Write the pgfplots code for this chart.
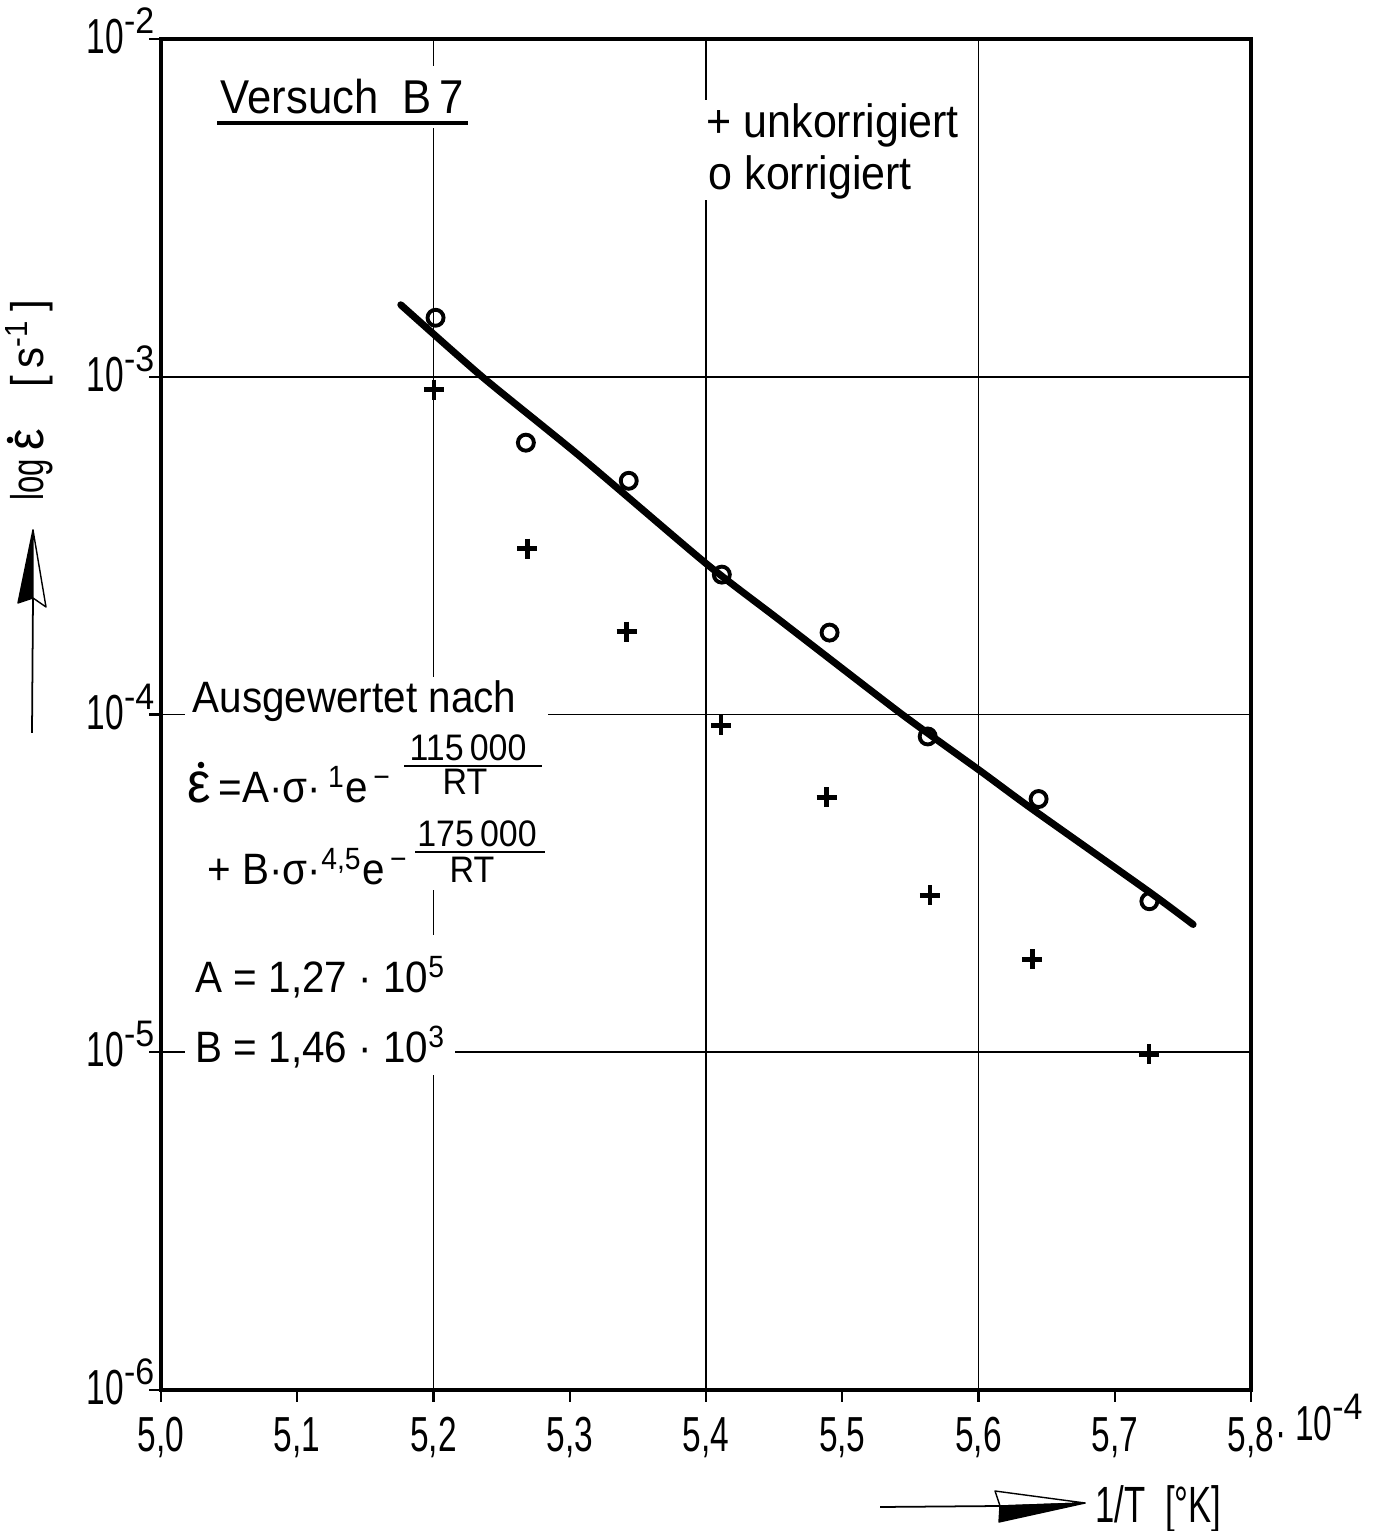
\documentclass[border=0pt]{standalone}
\usepackage{pgfplots}
\pgfplotsset{compat=1.18}
\usepackage{fontspec}
\setmainfont{Liberation Sans}[FakeStretch=0.92]
\newfontfamily\tickfont{Liberation Sans}[FakeStretch=0.68]
\newcommand\fs[1]{\fontsize{#1}{#1}\selectfont}
% superscript for the tick labels
\newcommand\tsup[1]{\raisebox{2.0mm}{\rmfamily\fs{10.5}#1}}

\begin{document}
\begin{tikzpicture}
\useasboundingbox (-16.1mm,-14.1mm) rectangle (121.9mm,139mm);
\begin{axis}[
  scale only axis, width=109mm, height=135.1mm,
  at={(0,0)}, anchor=south west,
  xmin=5.0, xmax=5.8, ymode=log, ymin=1e-6, ymax=1e-2,
  xtick={5.0,5.1,5.2,5.3,5.4,5.5,5.6,5.7,5.8},
  xticklabels={{5,0},{5,1},{5,2},{5,3},{5,4},{5,5},{5,6},{5,7},{5,8}},
  ytick={1e-6,1e-5,1e-4,1e-3,1e-2},
  yticklabels={10\tsup{-6},10\tsup{-5},10\tsup{-4},10\tsup{-3},10\tsup{-2}},
  yminorticks=false, minor y tick num=0,
  xtick pos=bottom, ytick pos=left,
  tick align=outside, major tick length=1.2mm,
  tick style={line width=0.6pt, black},
  axis line style={line width=1.4pt},
  extra x ticks={5.2,5.4,5.6}, extra x tick labels={},
  extra x tick style={grid=major, major tick length=0pt},
  extra y ticks={1e-3,1e-4,1e-5}, extra y tick labels={},
  extra y tick style={grid=major, major tick length=0pt},
  major grid style={line width=0.45pt, black},
  xticklabel style={font=\tickfont\fs{14}, anchor=base, inner sep=0pt, yshift=-5.0mm},
  yticklabel style={font=\tickfont\fs{14}, anchor=base east, inner sep=0pt, xshift=0.6mm, yshift=-1.45mm},
  clip=false,
]
% fitted curve
\addplot[line width=2pt, line cap=round, smooth, tension=0.4] coordinates {
 (5.1760,1.633e-3) (5.2357,1.0e-3) (5.3071,5.83e-4) (5.4,2.80e-4) (5.4545,1.897e-4)
 (5.5430,1.007e-4) (5.6019,6.78e-5) (5.6388,5.27e-5) (5.7250,2.99e-5) (5.7575,2.39e-5)};
% unkorrigiert
\addplot[only marks, mark=+, mark size=1.0mm, line width=1.3pt] coordinates {
 (5.2003,9.15e-4) (5.2688,3.10e-4) (5.3418,1.760e-4) (5.4111,9.28e-5)
 (5.4885,5.68e-5) (5.5643,2.913e-5) (5.6395,1.884e-5) (5.7252,9.86e-6)};
% korrigiert
\addplot[only marks, mark=o, mark size=0.8mm, line width=1.1pt, mark options={fill=white}] coordinates {
 (5.2015,1.495e-3) (5.2678,6.38e-4) (5.3433,4.92e-4) (5.4116,2.595e-4)
 (5.4907,1.748e-4) (5.5627,8.61e-5) (5.6441,5.62e-5) (5.7254,2.80e-5)};
\end{axis}
\begin{scope}[x=1mm, y=1mm]
% Versuch B7
\fill[white] (5.1,126.2) rectangle (31.4,132.4);
\node[anchor=base west, inner sep=0pt, font=\fs{13.5}] at (5.9,127.6) {Versuch\ \ B\,7};
\draw[line width=0.9pt] (5.6,126.7) -- (30.7,126.7);
% legend
\fill[white] (53.9,119.0) rectangle (81.6,129.0);
\node[anchor=base west, inner sep=0pt, font=\fs{13.3}] at (54.5,125.2) {+ unkorrigiert};
\node[anchor=base west, inner sep=0pt, font=\fs{13.3}] at (54.7,120.0) {o korrigiert};
% formula block
\fill[white] (2.4,50.0) rectangle (38.7,71.3);
\node[anchor=base west, inner sep=0pt, font=\fs{12.5}] at (3.1,67.7) {Ausgewertet nach};
\node[anchor=base west, inner sep=0pt, font=\fs{12.5}] at (2.6,58.7) {\scalebox{1.3}{ε}\,=A·σ·\,\textsuperscript{1}e\textsuperscript{\,−}};
\fill (4.0,62.5) circle[radius=0.33];
\draw[line width=0.7pt] (24.3,62.4) -- (38.1,62.4);
\node[anchor=base, inner sep=0pt, font=\fs{10.5}] at (30.7,62.9) {115\,000};
\node[anchor=base, inner sep=0pt, font=\fs{10.5}] at (30.4,59.5) {RT};
\node[anchor=base west, inner sep=0pt, font=\fs{12.5}] at (4.6,50.5) {+ B·σ·\textsuperscript{4,5}e\textsuperscript{\,−}};
\draw[line width=0.7pt] (25.4,53.8) -- (38.4,53.8);
\node[anchor=base, inner sep=0pt, font=\fs{10.5}] at (31.6,54.3) {175\,000};
\node[anchor=base, inner sep=0pt, font=\fs{10.5}] at (31.1,50.7) {RT};
% constants
\fill[white] (2.4,31.5) rectangle (29.4,45.5);
\node[anchor=base west, inner sep=0pt, font=\fs{12.5}] at (3.4,39.7) {A = 1,27 · 10\textsuperscript{5}};
\node[anchor=base west, inner sep=0pt, font=\fs{12.5}] at (3.4,32.7) {B = 1,46 · 10\textsuperscript{3}};
% y label (log, epsilon dot, unit) and arrow
\node[rotate=90, anchor=base, inner sep=0pt, font=\tickfont\fs{13}] at (-11.8,91.0) {log};
\node[rotate=90, anchor=base, inner sep=0pt, font=\fs{12.5}] at (-11.8,95.0) {\scalebox{1.2}{ε}};
\fill (-15.1,95.0) circle[radius=0.33];
\node[rotate=90, anchor=base, inner sep=0pt, font=\fs{13}] at (-11.8,104.6) {[\,s\textsuperscript{-1}\,]};
\draw[line width=0.5pt] (-12.9,65.7) -- (-12.8,79.2);
\filldraw[fill=black, line width=0.4pt, line join=round] (-12.8,86.0) -- (-14.3,78.7) -- (-12.8,79.2) -- cycle;
\filldraw[fill=white, line width=0.4pt, line join=round] (-12.8,86.0) -- (-11.5,78.3) -- (-12.8,79.2) -- cycle;
% x label and arrow
\draw[line width=0.5pt] (71.9,-11.7) -- (83.9,-11.6);
\filldraw[fill=white, line width=0.4pt, line join=round] (92.4,-11.3) -- (83.4,-10.1) -- (83.9,-11.6) -- cycle;
\filldraw[fill=black, line width=0.4pt, line join=round] (92.4,-11.3) -- (83.8,-13.2) -- (83.9,-11.6) -- cycle;
\node[anchor=base west, inner sep=0pt, font=\tickfont\fs{14.5}] at (93.4,-13.2) {1/T\ \ [°K]};
\node[anchor=base west, inner sep=0pt, font=\tickfont\fs{14}] at (111.4,-5.0) {\raisebox{-0.9mm}{·}\,10\tsup{-4}};
\end{scope}
\end{tikzpicture}
\end{document}
